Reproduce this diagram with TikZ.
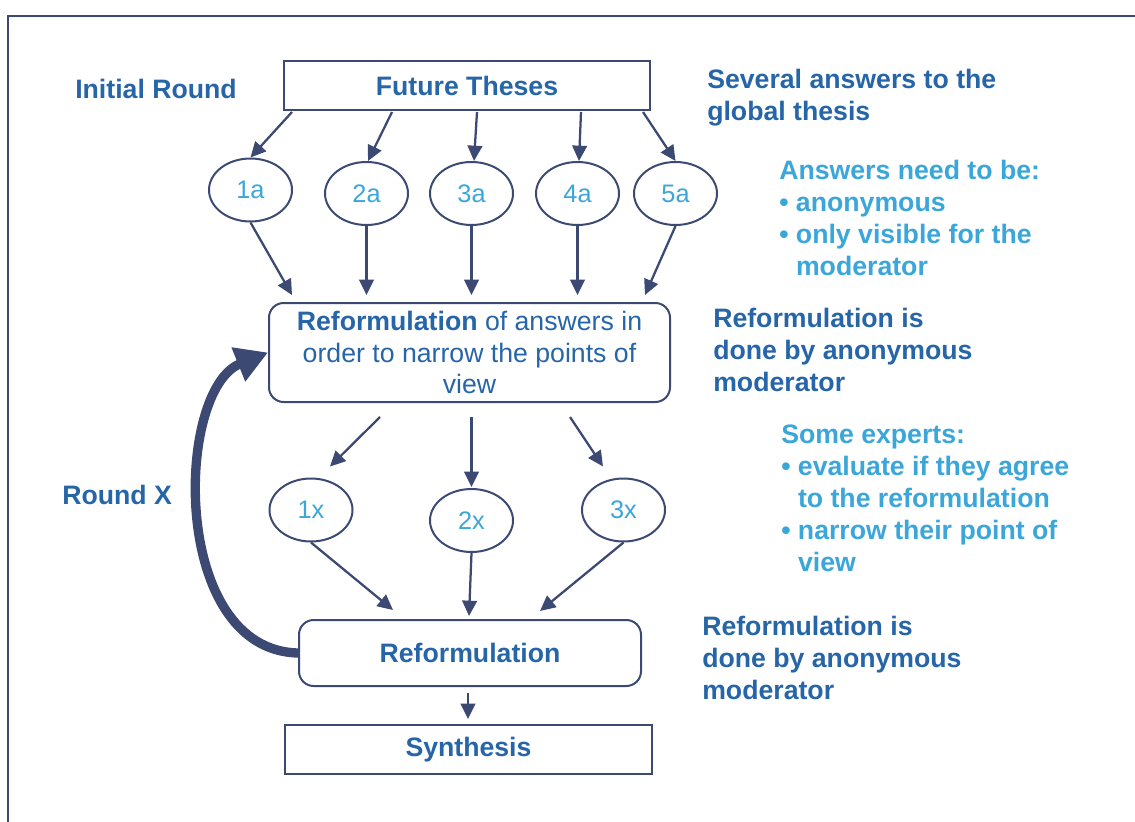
\documentclass[tikz,border=0pt]{standalone}
\usepackage{fontspec}
\setmainfont{Liberation Sans}
\usetikzlibrary{arrows.meta,calc,shapes.geometric}
\definecolor{navy}{HTML}{3C4A73}
\definecolor{dblue}{HTML}{2665A8}
\definecolor{lblue}{HTML}{3BA6DA}
\begin{document}
\begin{tikzpicture}[x=0.75pt,y=-0.75pt,
  box/.style={draw=navy,line width=1.5pt,inner sep=0pt,text=dblue,font=\fontsize{20}{24}\selectfont\bfseries},
  rbox/.style={box,rounded corners=11pt},
  ell/.style={ellipse,draw=navy,line width=1.5pt,minimum width=62.25pt,minimum height=47.25pt,inner sep=0pt,text=lblue,font=\fontsize{19}{22}\selectfont},
  arr/.style={draw=navy,line width=1.7pt,-{Triangle[length=11.5pt,width=11pt]}},
  note/.style={anchor=north west,inner sep=0pt,align=left,font=\fontsize{20}{24}\selectfont\bfseries},
  lab/.style={anchor=base west,inner sep=0pt,text=dblue,font=\fontsize{20}{24}\selectfont\bfseries},
]
\useasboundingbox (0,0) rectangle (1135,821);
\fill[white] (0,0) rectangle (1135,821);
% frame
\draw[navy,line width=1.5pt] (1136,15.5) -- (8,15.5) -- (8,822);

% boxes
\node[box,minimum width=274.5pt,minimum height=36.75pt] (ft) at (467,85.5) {Future Theses};
\node[rbox,minimum width=300.75pt,minimum height=74.25pt,align=center,
      font=\fontsize{20}{23.6}\selectfont] (r1) at (469.5,352.5)
      {\textbf{Reformulation} of answers in\\order to narrow the points of\\view};
\node[rbox,minimum width=256.5pt,minimum height=49.5pt] (r2) at (470,653) {Reformulation};
\node[box,minimum width=275.25pt,minimum height=36.75pt] (syn) at (468.5,749.5) {Synthesis};

% ellipses
\node[ell] (e1) at (250.5,190) {1a};
\node[ell] (e2) at (366.5,193.5) {2a};
\node[ell] (e3) at (471.5,193.5) {3a};
\node[ell] (e4) at (577.5,193.5) {4a};
\node[ell] (e5) at (675.5,193.5) {5a};
\node[ell] (x1) at (311,510) {1x};
\node[ell] (x2) at (471.5,520.5) {2x};
\node[ell] (x3) at (623.5,510) {3x};

% labels
\node[lab] (ir) at (75,98) {Initial Round};
\node[lab] (rx) at (62,504) {Round X};
\node[note,text=dblue] (n1) at (707,68.5) {Several answers to the\\global thesis};
\node[note,text=lblue] (n2) at (779,159.5) {Answers need to be:\\\textbullet\ anonymous\\\textbullet\ only visible for the\\\phantom{\textbullet\ }moderator};
\node[note,text=dblue] (n3) at (713,307.5) {Reformulation is\\done by anonymous\\moderator};
\node[note,text=lblue] (n4) at (781,424.5) {Some experts:\\\textbullet\ evaluate if they agree\\\phantom{\textbullet\ }to the reformulation\\\textbullet\ narrow their point of\\\phantom{\textbullet\ }view};
\node[note,text=dblue] (n5) at (702,615.5) {Reformulation is\\done by anonymous\\moderator};

% arrows: theses -> answers
\draw[arr] ($(ft.south)+(-175,1)$) -- (e1.north);
\draw[arr] ($(ft.south)+(-75,1)$) -- ($(e2.north)+(1.5,0)$);
\draw[arr] ($(ft.south)+(10,1)$) -- ($(e3.north)+(2.5,0)$);
\draw[arr] ($(ft.south)+(114,1)$) -- ($(e4.north)+(1.5,0)$);
\draw[arr] ($(ft.south)+(176,1)$) -- (e5.north);
% answers -> reformulation
\draw[arr] (e1.south) -- ($(r1.north)+(-177.5,-7)$);
\draw[arr] (e2.south) -- ($(r1.north)+(-103,-7)$);
\draw[arr] (e3.south) -- ($(r1.north)+(2,-7)$);
\draw[arr] (e4.south) -- ($(r1.north)+(108,-7)$);
\draw[arr] (e5.south) -- ($(r1.north)+(175.5,-7)$);
% reformulation -> x answers
\draw[arr] ($(r1.south)+(-89.5,14)$) -- ($(x1.north)+(19,-11)$);
\draw[arr] ($(r1.south)+(2,14)$) -- ($(x2.north)+(0,-1)$);
\draw[arr] ($(r1.south)+(100.5,14)$) -- ($(x3.north)+(-20.5,-11)$);
% x answers -> reformulation 2
\draw[arr] (x1.south) -- ($(r2.north)+(-77,-9)$);
\draw[arr] (x2.south) -- ($(r2.north)+(-1,-3)$);
\draw[arr] (x3.south) -- ($(r2.north)+(70,-8)$);
% reformulation 2 -> synthesis
\draw[arr] ($(r2.south)+(-2,6)$) -- ($(syn.north)+(-0.5,-5)$);
% round X loop
\draw[navy,line width=7pt,-{Triangle[length=24pt,width=26pt]}]
  (r2.west) .. controls (170,650) and (175,390) .. (r1.west);
\end{tikzpicture}
\end{document}
